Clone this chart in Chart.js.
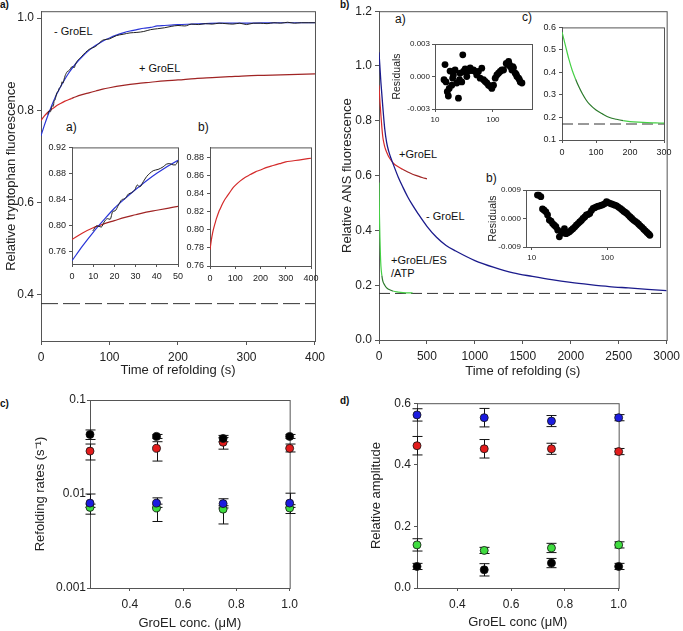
<!DOCTYPE html>
<html>
<head>
<meta charset="utf-8">
<script src="https://cdn.jsdelivr.net/npm/chart.js@4.4.1/dist/chart.umd.min.js"></script>
<style>
  body { margin: 0; background: #fff; width: 683px; height: 631px; position: relative; overflow: hidden;
         font-family: "Liberation Sans", Arial, sans-serif; color: #111; }
  canvas { position: absolute; }
  .t { position: absolute; font-size: 11px; line-height: 13px; white-space: nowrap; }
  .p { position: absolute; font-size: 10px; font-weight: bold; line-height: 12px; }
  .i { position: absolute; font-size: 12px; line-height: 14px; }
</style>
</head>
<body>
<div class="p" style="left:0;top:-1px">a)</div>
<div class="p" style="left:340px;top:-1px">b)</div>
<div class="p" style="left:0;top:398px">c)</div>
<div class="p" style="left:340px;top:395px">d)</div>

<div class="i" style="left:66px;top:120px">a)</div>
<div class="i" style="left:198px;top:120px">b)</div>
<div class="i" style="left:395px;top:12px">a)</div>
<div class="i" style="left:522px;top:10px">c)</div>
<div class="i" style="left:486px;top:171px">b)</div>

<div class="t" style="left:54px;top:25px">- GroEL</div>
<div class="t" style="left:139px;top:62px">+ GroEL</div>
<div class="t" style="left:399px;top:148px">+GroEL</div>
<div class="t" style="left:426px;top:210px">- GroEL</div>
<div class="t" style="left:391px;top:254px">+GroEL/ES<br>/ATP</div>

<script>
// ---------- a) tryptophan fluorescence ----------
const aFitTime = [0, 5, 10, 15, 20, 25, 30, 40, 50, 60, 70, 80, 90, 100, 110, 120, 130, 140, 150, 160,
                  170, 180, 190, 200, 220, 240, 260, 300, 350, 400];
const aMinusFit = [0.745, 0.768, 0.789, 0.808, 0.826, 0.841, 0.855, 0.880, 0.900, 0.916, 0.930, 0.941,
                   0.950, 0.957, 0.963, 0.968, 0.972, 0.975, 0.978, 0.980, 0.983, 0.984, 0.985, 0.986,
                   0.987, 0.988, 0.989, 0.989, 0.990, 0.990];
const aTraceTime = [9.8, 11.7, 13.8, 15.2, 16.7, 18.0, 19.2, 20.3, 21.9, 23.4, 25, 26.6, 28.1, 29.7, 30.8,
                    32.0, 33.6, 35.2, 36.7, 38.3, 40.6, 43, 44.5, 46.1, 47.7, 48.8, 50,
                    60, 70, 80, 90, 100, 110, 120, 130, 140, 150, 160, 170, 180, 190, 200, 210, 220, 230,
                    240, 250, 260, 270, 280, 290, 300, 310, 320, 330, 340, 350, 360, 370, 380, 390, 400];
const aMinusTrace = [0.791, 0.799, 0.797, 0.805, 0.810, 0.809, 0.821, 0.822, 0.831, 0.839, 0.841, 0.848,
                     0.850, 0.855, 0.862, 0.859, 0.867, 0.875, 0.880, 0.884, 0.886, 0.890, 0.894, 0.895,
                     0.893, 0.893, 0.899,
                     0.918, 0.932, 0.939, 0.952, 0.955, 0.962, 0.965, 0.968, 0.969, 0.971, 0.975, 0.977,
                     0.979, 0.982, 0.984, 0.983, 0.987, 0.986, 0.988, 0.987, 0.989, 0.988, 0.987, 0.989,
                     0.986, 0.989, 0.989, 0.988, 0.990, 0.989, 0.991, 0.989, 0.990, 0.990, 0.990];
const aPlusTime = [0, 5, 10, 15, 20, 25, 30, 35, 40, 45, 50, 60, 70, 80, 90, 100, 120, 140, 160, 180, 200,
                   225, 250, 275, 300, 325, 350, 375, 400];
const aPlusFit = [0.778, 0.788, 0.796, 0.802, 0.807, 0.812, 0.816, 0.820, 0.823, 0.826, 0.829, 0.834,
                  0.838, 0.842, 0.846, 0.849, 0.854, 0.858, 0.861, 0.864, 0.866, 0.869, 0.871, 0.873,
                  0.875, 0.876, 0.877, 0.878, 0.879];
const aBaseline = 0.381;

// ---------- b) ANS fluorescence ----------
const bMinusTime = [0, 20, 40, 60, 80, 100, 125, 150, 200, 250, 300, 350, 400, 500, 600, 700, 800, 1000,
                    1200, 1400, 1600, 1800, 2000, 2200, 2400, 2600, 2800, 3000];
const bMinus = [1.05, 0.94, 0.85, 0.77, 0.72, 0.69, 0.663, 0.64, 0.595, 0.557, 0.522, 0.492, 0.465, 0.415,
                0.375, 0.345, 0.325, 0.29, 0.265, 0.245, 0.232, 0.22, 0.21, 0.202, 0.195, 0.19, 0.185, 0.18];
const bPlusTime = [0, 10, 20, 30, 40, 50, 60, 80, 100, 125, 150, 200, 250, 300, 350, 400, 450, 500];
const bPlus = [0.93, 0.87, 0.82, 0.775, 0.74, 0.72, 0.705, 0.685, 0.67, 0.656, 0.645, 0.632, 0.622, 0.613,
               0.605, 0.599, 0.593, 0.588];
const bEsTime = [0, 5, 10, 15, 20, 30, 40, 60, 80, 100, 150, 200, 250, 300, 350];
const bEs = [0.575, 0.45, 0.37, 0.31, 0.27, 0.235, 0.215, 0.2, 0.19, 0.185, 0.178, 0.175, 0.173, 0.172, 0.172];
const bBaseline = 0.170;

// inset c of b
const cInTime = [0, 10, 20, 30, 40, 50, 60, 70, 80, 100, 120, 140, 160, 180, 200, 225, 250, 275, 300];
const cInVal = [0.58, 0.52, 0.46, 0.41, 0.37, 0.335, 0.305, 0.28, 0.26, 0.233, 0.215, 0.2, 0.192, 0.186,
                0.182, 0.179, 0.177, 0.176, 0.175];

// residuals insets of b
const resATime = [14.3, 14.9, 15.5, 16.3, 17.0, 17.6, 18.2, 19.5, 20.2, 20.8, 22.2, 23.8, 25.4, 26.5, 27.1,
                  29.0, 30.2, 31.0, 33.2, 35.4, 37.9, 40.5, 43.3, 46.2, 49.3, 52.7, 56.3, 60.2, 64.3, 68.7,
                  73.5, 78.6, 84.0, 89.8, 96.0, 102.6, 109.6, 117.1, 125, 133.8, 143, 153, 170, 178, 187,
                  194, 200, 213, 221, 227, 243, 253, 260, 278, 288, 297, 318];
const resAVal = [-0.0003, 0.0011, -0.0005, -0.0014, -0.0018, -0.0011, 0.0005, -0.0008, -0.00015, 0.00015,
                 0.0006, -0.0006, -0.002, -0.0003, 0.0003, -0.0005, 0.002, 0.00046, 0.0007, 0, 0.0005,
                 0.0008, 0.00055, 0.0006, 0.00046, 0.00015, 0.00046, -0.00015, 0.00077, -0.0003, -0.00046,
                 -0.0006, -0.0008, -0.0009, -0.0011, -0.0008, -0.00015, 0.00015, 0.0003, 0.00046, 0.0006,
                 0.0006, 0.0012, 0.0011, 0.0014, 0.0011, 0.0009, 0.0006, 0.0009, 0.0008, 0.0003, 0.0002, 0,
                 -0.00015, -0.0003, -0.0005, -0.0006];
const resBTime = [11.9, 12.4, 13.2, 13.9, 14.6, 15.4, 16.2, 17.1, 18.0, 18.9, 19.9, 20.9, 22.1, 23.2, 24.5,
                  25.8, 27.1, 28.5, 30.0, 31.6, 33.3, 35.1, 37.0, 38.9, 41.0, 43.1, 45.4, 47.7, 50.3, 52.9,
                  55.7, 58.6, 61.7, 64.9, 68.3, 71.9, 75.7, 79.7, 83.9, 88.3, 93.0, 97.8, 103, 108, 114,
                  120, 126, 133, 140, 148, 156, 164, 172, 181, 191, 201, 211, 222, 234, 247, 260, 273, 288,
                  303, 319, 335, 352, 366];
const resBVal = [0.0074, 0.0074, 0.0069, 0.003, 0.0026, 0.0021, 0.0011, -0.0005, -0.0008, -0.0016, -0.0021,
                 -0.0026, -0.0037, -0.0058, -0.0042, -0.0046, -0.0032, -0.0048, -0.0045, -0.0042, -0.0037,
                 -0.0032, -0.0027, -0.0021, -0.0016, -0.0011, -0.0006, 0.0, 0.0005, 0.0011, 0.0013, 0.0016,
                 0.0025, 0.0032, 0.0034, 0.0037, 0.0039, 0.004, 0.0042, 0.0044, 0.0047, 0.0053, 0.005,
                 0.0048, 0.0046, 0.0044, 0.0042, 0.004, 0.0036, 0.0032, 0.0028, 0.0023, 0.002, 0.0016, 0.001,
                 0.0005, 0.0, -0.0005, -0.0009, -0.0013, -0.0018, -0.0023, -0.0028, -0.0034, -0.0039,
                 -0.0044, -0.0049, -0.0053];

// ---------- c) refolding rates ----------
const conc = [0.25, 0.5, 0.75, 1.0];
const cBlack = [0.043, 0.041, 0.039, 0.041], cBlackHi = [0.048, 0.043, 0.042, 0.043], cBlackLo = [0.038, 0.039, 0.036, 0.039];
const cRed = [0.0286, 0.0306, 0.0355, 0.0306], cRedHi = [0.034, 0.036, 0.040, 0.034], cRedLo = [0.023, 0.0224, 0.030, 0.028];
const cBlue = [0.008, 0.008, 0.0079, 0.008], cBlueHi = [0.010, 0.0091, 0.0089, 0.0102], cBlueLo = [0.0072, 0.0072, 0.0071, 0.0072];
const cGreen = [0.0072, 0.0071, 0.0069, 0.0071], cGreenHi = [0.0078, 0.0078, 0.0075, 0.0077], cGreenLo = [0.0061, 0.0051, 0.0048, 0.0062];

// ---------- d) relative amplitude ----------
const dBlue = [0.562, 0.553, 0.542, 0.553], dBlueErr = [0.02, 0.03, 0.018, 0.01];
const dRed = [0.462, 0.452, 0.452, 0.443], dRedErr = [0.03, 0.03, 0.018, 0.01];
const dGreen = [0.14, 0.122, 0.13, 0.14], dGreenErr = [0.02, 0.01, 0.015, 0.01];
const dBlack = [0.07, 0.059, 0.081, 0.07], dBlackErr = [0.01, 0.02, 0.015, 0.01];

// ---------- helpers ----------
Chart.defaults.font.family = '"Liberation Sans", Arial, sans-serif';
Chart.defaults.color = '#222';
const AX = '#555';

const frame = {
  id: 'frame',
  beforeDatasetsDraw(chart) {
    const a = chart.chartArea, c = chart.ctx;
    c.save(); c.strokeStyle = AX; c.lineWidth = 1;
    c.strokeRect(a.left + 0.5, a.top + 0.5, a.right - a.left, a.bottom - a.top);
    c.restore();
  }
};
const errorBars = {
  id: 'errorBars',
  beforeDatasetsDraw(chart) {
    const c = chart.ctx, xs = chart.scales.x, ys = chart.scales.y;
    c.save(); c.strokeStyle = '#111'; c.lineWidth = 1;
    chart.data.datasets.forEach(ds => {
      if (!ds.errHi) return;
      ds.data.forEach((p, j) => {
        const x = Math.round(xs.getPixelForValue(p.x)) + 0.5;
        const yh = ys.getPixelForValue(ds.errHi[j]), yl = ys.getPixelForValue(ds.errLo[j]);
        c.beginPath();
        c.moveTo(x, yh); c.lineTo(x, yl);
        c.moveTo(x - 5, yh); c.lineTo(x + 5, yh);
        c.moveTo(x - 5, yl); c.lineTo(x + 5, yl);
        c.stroke();
      });
    });
    c.restore();
  }
};

const pts = (xs, ys) => xs.map((x, i) => ({x: x, y: ys[i]}));
const fixed = vals => s => { s.ticks = vals.map(v => ({value: v})); };

function axis(o) {
  return Object.assign({
    type: 'linear',
    grid: {drawOnChartArea: false, drawTicks: true, tickLength: o.tl || 4, color: AX},
    border: {color: AX},
    ticks: {font: {size: o.fs || 12}, padding: o.pad == null ? 3 : o.pad, maxRotation: 0, autoSkip: false,
            callback: o.fmt},
    afterBuildTicks: fixed(o.ticks),
    title: o.title ? {display: true, text: o.title, font: {size: o.tfs || 13}, color: '#222',
                      padding: {top: o.tpad || 0, bottom: o.tpad || 0}} : {display: false}
  }, o.extra || {});
}

function makePanel(box, m, datasets, xo, yo, plugins) {
  const cv = document.createElement('canvas');
  const x0 = box.l - m.l, y0 = box.t - m.t;
  const w = box.r + m.r - x0, h = box.b + m.b - y0;
  cv.width = w; cv.height = h;
  cv.style.left = x0 + 'px'; cv.style.top = y0 + 'px';
  document.body.appendChild(cv);
  xo.afterFit = s => { s.height = m.b; };
  yo.afterFit = s => { s.width = m.l; };
  xo.position = 'bottom'; yo.position = 'left';
  return new Chart(cv, {
    type: 'scatter',
    data: {datasets: datasets},
    options: {
      responsive: false, animation: false, devicePixelRatio: 1, events: [],
      layout: {padding: {top: m.t, right: m.r, left: 0, bottom: 0}},
      plugins: {legend: {display: false}, tooltip: {enabled: false}},
      scales: {x: xo, y: yo}
    },
    plugins: [frame].concat(plugins || [])
  });
}

function line(data, color, width, seg) {
  const ds = {data: data, showLine: true, borderColor: color, borderWidth: width || 1.2, pointRadius: 0,
              fill: false, cubicInterpolationMode: 'monotone'};
  if (seg) ds.segment = {borderColor: seg};
  return ds;
}
function dash(x0, x1, y, pattern) {
  return {data: [{x: x0, y: y}, {x: x1, y: y}], showLine: true, borderColor: '#333', borderWidth: 1,
          borderDash: pattern, pointRadius: 0};
}
function dots(xs, ys, color, lo, hi) {
  return {data: pts(xs, ys), pointRadius: 4, pointBackgroundColor: color, pointBorderColor: '#111',
          pointBorderWidth: 0.8, clip: false, errLo: lo, errHi: hi};
}
function resid(xs, ys) {
  return {data: pts(xs, ys), pointRadius: 3.4, pointBackgroundColor: '#000', pointBorderWidth: 0, clip: false};
}
const darkAfter = (t, light, dark) => ctx => ctx.p0.parsed.x >= t ? dark : light;
const darkBetween = (t0, t1, light, dark) => ctx => (ctx.p0.parsed.x >= t0 && ctx.p0.parsed.x < t1) ? dark : light;

const f1 = v => v.toFixed(1), f2 = v => v.toFixed(2), f0 = v => String(v), f3 = v => v.toFixed(3);
const BLUE = '#2a35d8', NAVY = '#1b1b8c', RED = '#d42a2a', DRED = '#a02424', GREEN = '#45d045', DGREEN = '#2b7a2b';

// ---------- a) main ----------
makePanel({l: 41, t: 9, r: 316, b: 341}, {l: 41, t: 8, r: 14, b: 38}, [
  line(pts(aTraceTime, aMinusTrace), '#222', 1),
  line(pts(aFitTime, aMinusFit), BLUE, 1.2),
  line(pts(aPlusTime, aPlusFit), RED, 1.2, darkAfter(45, RED, DRED)),
  dash(0, 400, aBaseline, [17, 5])
],
axis({ticks: [0, 100, 200, 300, 400], fmt: f0, pad: 5, title: 'Time of refolding (s)', tpad: 1,
      extra: {min: 0, max: 400}}),
axis({ticks: [0.4, 0.6, 0.8, 1.0], fmt: f1, pad: 3, title: 'Relative tryptophan fluorescence', tpad: 4,
      extra: {min: 0.3, max: 1.015}}));

// a) inset a
makePanel({l: 72, t: 147, r: 178, b: 264}, {l: 36, t: 8, r: 12, b: 20}, [
  line(pts(aTraceTime, aMinusTrace), '#222', 1),
  line(pts(aFitTime, aMinusFit), BLUE, 1.2),
  line(pts(aPlusTime, aPlusFit), RED, 1.2, darkAfter(15, RED, DRED))
],
axis({ticks: [0, 10, 20, 30, 40, 50], fmt: f0, fs: 9, tl: 3, pad: 4, extra: {min: 0, max: 50}}),
axis({ticks: [0.76, 0.80, 0.84, 0.88, 0.92], fmt: f2, fs: 9, tl: 3, pad: 3, extra: {min: 0.74, max: 0.92}}));

// a) inset b
makePanel({l: 210, t: 147, r: 311, b: 266}, {l: 36, t: 8, r: 12, b: 20}, [
  line(pts(aPlusTime, aPlusFit), RED, 1.2)
],
axis({ticks: [0, 100, 200, 300, 400], fmt: f0, fs: 9, tl: 3, pad: 4, extra: {min: 0, max: 400}}),
axis({ticks: [0.76, 0.78, 0.80, 0.82, 0.84, 0.86, 0.88], fmt: f2, fs: 9, tl: 3, pad: 3,
      extra: {min: 0.76, max: 0.891}}));

// ---------- b) main ----------
makePanel({l: 379, t: 9, r: 671, b: 340}, {l: 40, t: 8, r: 14, b: 40}, [
  line(pts(bMinusTime, bMinus), NAVY, 1.3),
  line(pts(bPlusTime, bPlus), RED, 1.2, darkAfter(250, RED, DRED)),
  line(pts(bEsTime, bEs), GREEN, 1.2, darkBetween(30, 150, GREEN, DGREEN)),
  dash(0, 3000, bBaseline, [11, 5])
],
axis({ticks: [0, 500, 1000, 1500, 2000, 2500, 3000], fmt: f0, pad: 5, title: 'Time of refolding (s)', tpad: 0.5,
      extra: {min: 0, max: 3000}}),
axis({ticks: [0, 0.2, 0.4, 0.6, 0.8, 1.0, 1.2], fmt: f1, pad: 3, title: 'Relative ANS fluorescence', tpad: 0.5,
      extra: {min: 0, max: 1.2}}));

// b) inset a residuals
makePanel({l: 435, t: 44, r: 532, b: 109}, {l: 45, t: 8, r: 12, b: 20}, [
  resid(resATime, resAVal)
],
axis({ticks: [10, 100], fmt: f0, fs: 8, tl: 3, pad: 3, extra: {type: 'logarithmic', min: 10, max: 474}}),
axis({ticks: [-0.003, 0, 0.003], fmt: f3, fs: 8, tl: 3, pad: 2, title: 'Residuals', tfs: 10.5, tpad: 0.4,
      extra: {min: -0.003, max: 0.003}}));

// b) inset b residuals
makePanel({l: 526, t: 190, r: 660, b: 247}, {l: 40, t: 8, r: 12, b: 20}, [
  resid(resBTime, resBVal)
],
axis({ticks: [10, 100], fmt: f0, fs: 8, tl: 3, pad: 3, extra: {type: 'logarithmic', min: 8.4, max: 498}}),
axis({ticks: [-0.009, 0, 0.009], fmt: f3, fs: 8, tl: 3, pad: 2, title: 'Residuals', tfs: 10.5, tpad: 0.4,
      extra: {min: -0.009, max: 0.009}}));

// b) inset c
makePanel({l: 562, t: 27, r: 664, b: 140}, {l: 36, t: 8, r: 12, b: 20}, [
  line(pts(cInTime, cInVal), GREEN, 1.2, darkBetween(40, 180, GREEN, DGREEN)),
  dash(0, 300, 0.171, [11, 5])
],
axis({ticks: [0, 100, 200, 300], fmt: f0, fs: 9, tl: 3, pad: 4, extra: {min: 0, max: 300}}),
axis({ticks: [0.1, 0.2, 0.3, 0.4, 0.5, 0.6], fmt: f1, fs: 9, tl: 3, pad: 3, extra: {min: 0.1, max: 0.6}}));

// ---------- c) rates ----------
makePanel({l: 90, t: 400, r: 290, b: 588}, {l: 60, t: 10, r: 14, b: 43}, [
  dots(conc, cBlack, '#000', cBlackLo, cBlackHi),
  dots(conc, cRed, '#e21c1c', cRedLo, cRedHi),
  dots(conc, cBlue, '#1c1ce0', cBlueLo, cBlueHi),
  dots(conc, cGreen, '#3fdc3f', cGreenLo, cGreenHi)
],
axis({ticks: [0.4, 0.6, 0.8, 1.0], fmt: f1, pad: 6, tl: 3, title: 'GroEL conc. (\u03bcM)', tpad: 0,
      extra: {min: 0.25, max: 1.0}}),
axis({ticks: [0.001, 0.01, 0.1], fmt: v => String(v), pad: 1, tl: 3, title: 'Refolding rates (s\u207b\u00b9)', tpad: 2.5,
      extra: {type: 'logarithmic', min: 0.001, max: 0.1}}),
[errorBars]);

// ---------- d) amplitudes ----------
const lo = (v, e) => v.map((x, i) => x - e[i]), hi = (v, e) => v.map((x, i) => x + e[i]);
makePanel({l: 417, t: 403, r: 619, b: 588}, {l: 50, t: 10, r: 14, b: 42}, [
  dots(conc, dBlue, '#1c1ce0', lo(dBlue, dBlueErr), hi(dBlue, dBlueErr)),
  dots(conc, dRed, '#e21c1c', lo(dRed, dRedErr), hi(dRed, dRedErr)),
  dots(conc, dGreen, '#3fdc3f', lo(dGreen, dGreenErr), hi(dGreen, dGreenErr)),
  dots(conc, dBlack, '#000', lo(dBlack, dBlackErr), hi(dBlack, dBlackErr))
],
axis({ticks: [0.4, 0.6, 0.8, 1.0], fmt: f1, pad: 6, tl: 3, title: 'GroEL conc (\u03bcM)', tpad: 0,
      extra: {min: 0.25, max: 1.0}}),
axis({ticks: [0, 0.2, 0.4, 0.6], fmt: f1, pad: 3, tl: 3, title: 'Relative amplitude', tpad: 1.5,
      extra: {min: 0, max: 0.6}}),
[errorBars]);
</script>
</body>
</html>
